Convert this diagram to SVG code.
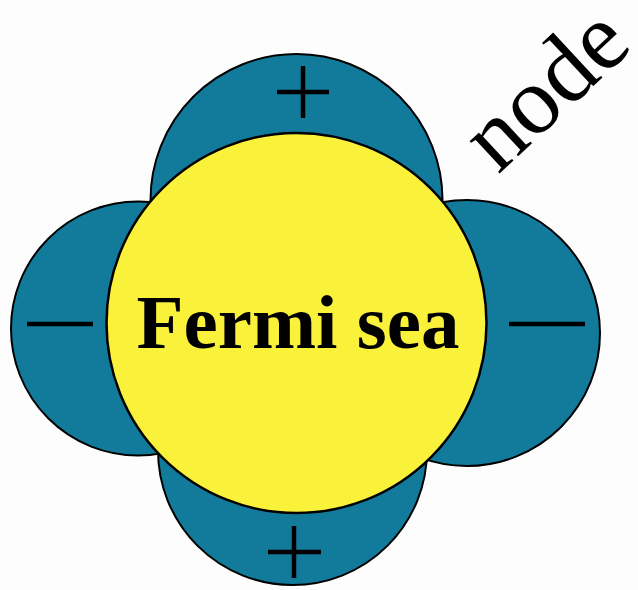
<svg xmlns="http://www.w3.org/2000/svg" width="638" height="590" viewBox="0 0 638 590">
<style>
.lobe{fill:#127b9b;stroke:#000;stroke-width:2}
.sea{fill:#faf23a;stroke:#000;stroke-width:2.5}
.sign{stroke:#000;stroke-width:4.5;fill:none}
.lbl{font-family:"Liberation Serif",serif;fill:#000}
</style>
<rect width="638" height="590" fill="#fdfdfe"/>
<g id="lobe-top"><circle class="lobe" cx="296.5" cy="200" r="146"/></g>
<g id="lobe-left"><circle class="lobe" cx="138" cy="328.5" r="127"/></g>
<g id="lobe-right"><circle class="lobe" cx="467" cy="333" r="133"/></g>
<g id="lobe-bottom"><circle class="lobe" cx="292.5" cy="450.5" r="134.5"/></g>
<g id="fermi-sea">
<circle class="sea" cx="296.5" cy="323" r="190"/>
<text class="lbl" x="298" y="348" font-size="77" font-weight="bold" text-anchor="middle">Fermi sea</text>
</g>
<g id="signs">
<path class="sign" d="M277 92H329M303 66V118"/>
<path class="sign" d="M268 552H321M294 526V578"/>
<path class="sign" d="M27 324H93"/>
<path class="sign" d="M509 324H585"/>
</g>
<g id="node-label">
<text class="lbl" font-size="96" transform="translate(498 175) rotate(-43)">node</text>
</g>
</svg>
